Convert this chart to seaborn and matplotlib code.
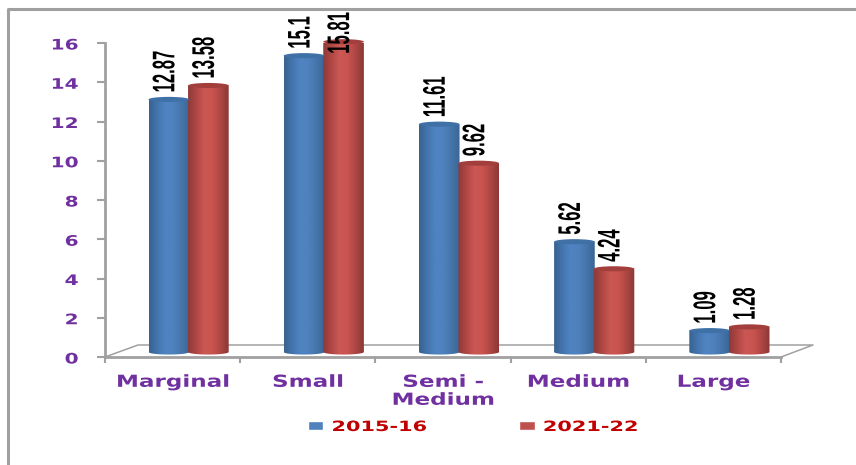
import numpy as np
import pandas as pd
import matplotlib
matplotlib.use('Agg')
import matplotlib.pyplot as plt
import matplotlib.transforms as mtrans
from matplotlib.colors import LinearSegmentedColormap
from matplotlib.lines import Line2D
from matplotlib.patches import Ellipse
from matplotlib.patheffects import AbstractPathEffect
from matplotlib.path import Path
import seaborn as sns

# valores
categorias = ['Marginal', 'Small', 'Semi -\nMedium', 'Medium', 'Large']
valores_2015 = [12.87, 15.1, 11.61, 5.62, 1.09]
valores_2021 = [13.58, 15.81, 9.62, 4.24, 1.28]
periodos = ['2015-16', '2021-22']
ticks_y = [0, 2, 4, 6, 8, 10, 12, 14, 16]

MORADO = '#7030A0'
ROJO = '#C00000'
GRIS = '#A0A0A0'
W, H = 856, 465


class Estirar(AbstractPathEffect):
    """Estira el texto (la imagen original esta deformada), sin dejar de ser texto."""

    def __init__(self, sx=1.0, sy=1.0, dx=0, dy=0):
        super().__init__()
        self.sx, self.sy, self.dx, self.dy = sx, sy, dx, dy

    def draw_path(self, renderer, gc, tpath, affine, rgbFace=None):
        nueva = mtrans.Affine2D().scale(self.sx, self.sy) + affine
        nueva = nueva + mtrans.Affine2D().translate(self.dx, self.dy)
        renderer.draw_path(gc, tpath, nueva, rgbFace)


df = pd.DataFrame({
    'categoria': categorias * 2,
    'valor': valores_2015 + valores_2021,
    'periodo': [periodos[0]] * 5 + [periodos[1]] * 5,
})

sns.set_theme(style='white')
plt.rcParams['font.family'] = ['DejaVu Sans']

fig = plt.figure(figsize=(W / 100, H / 100), dpi=100)
ax = fig.add_axes([105 / W, 1 - 357 / H, (781 - 105) / W, (357 - 43) / H])
ax.patch.set_visible(False)

sns.barplot(data=df, x='categoria', y='valor', hue='periodo', hue_order=periodos,
            palette=['#4F81BD', '#C0504D'], width=0.585, gap=0, saturation=1,
            order=categorias, ax=ax)
ax.set_xlabel('')
ax.set_ylabel('')


def linea_px(xs, ys, lw=1.6):
    """Linea de decoracion en coordenadas de pixel de la imagen."""
    fig.add_artist(Line2D([x / W for x in xs], [1 - y / H for y in ys],
                          color=GRIS, lw=lw, zorder=-1, solid_capstyle='butt'))


# marco exterior y suelo 3D
linea_px([8, 8, 856], [465, 9, 9], lw=2.2)
linea_px([105, 138, 813, 781], [357, 345, 345, 357], lw=1.1)

# desplazamiento de las columnas por la profundidad del grafico
desplazado = mtrans.offset_copy(ax.transData, fig=fig, x=16, y=5, units='dots')

mapa_azul = LinearSegmentedColormap.from_list(
    'azul', ['#38628F', '#4475AE', '#4F84C2', '#4F81BD', '#4675AB', '#3A6596'])
mapa_rojo = LinearSegmentedColormap.from_list(
    'rojo', ['#8E3A38', '#B04744', '#CB5855', '#C9534F', '#AE4744', '#8C3836'])
tapas = ['#3F70A6', '#A23F3C']
gradiente = np.linspace(0, 1, 64).reshape(1, -1)
ALTO_TAPA = 0.13  # semieje de la elipse, en unidades del eje y

for contenedor, mapa, tapa in zip(ax.containers, [mapa_azul, mapa_rojo], tapas):
    for barra in contenedor:
        x0, ancho, valor = barra.get_x(), barra.get_width(), barra.get_height()
        xc = x0 + ancho / 2
        x0, ancho = x0 - 0.004, ancho + 0.008  # sin hueco entre columnas
        barra.set_visible(False)

        # silueta del cilindro: lado recto y arco inferior
        t = np.linspace(np.pi, 2 * np.pi, 30)
        arco_x = xc + ancho / 2 * np.cos(t)
        arco_y = ALTO_TAPA * np.sin(t)
        vertices = np.column_stack([
            np.r_[arco_x, x0 + ancho, x0, x0],
            np.r_[arco_y, valor, valor, arco_y[0]],
        ])
        silueta = Path(vertices)

        im = ax.imshow(gradiente, cmap=mapa, aspect='auto', zorder=3,
                       extent=[x0, x0 + ancho, -0.5, valor])
        im.set_transform(desplazado)
        im.set_clip_path(silueta, transform=desplazado)

        cap = Ellipse((xc, valor), ancho, ALTO_TAPA * 2, facecolor=tapa,
                      edgecolor='none', transform=desplazado, zorder=4, clip_on=False)
        ax.add_artist(cap)

        # 15.81 no cabe arriba y queda encima de la columna
        subir = -12 if valor > 15.5 else 7
        etiqueta = ax.annotate(f'{valor:g}', xy=(xc, valor), xycoords=desplazado,
                               xytext=(0, subir), textcoords='offset pixels', rotation=90,
                               ha='center', va='bottom', fontsize=15, color='black', zorder=6,
                               family=['Liberation Sans'], weight='bold', annotation_clip=False)
        etiqueta.set_path_effects([Estirar(sx=0.8, sy=1.5, dx=0)])

ax.set_xlim(-0.5, 4.5)
ax.set_ylim(0, 16)

# ejes
sns.despine(ax=ax)
for lado in ['left', 'bottom']:
    ax.spines[lado].set_color(GRIS)
    ax.spines[lado].set_linewidth(2.0)
ax.set_yticks(ticks_y)
ax.tick_params(axis='y', length=6, width=1.5, color=GRIS, left=True, pad=13,
               labelsize=14.5, labelcolor=MORADO)
ax.set_xticks(range(5))
ax.set_xticklabels(categorias, linespacing=0.72)
ax.set_xticks(np.arange(-0.5, 5), minor=True)
ax.tick_params(axis='x', which='major', length=0, pad=8.5, labelsize=16.6, labelcolor=MORADO)
ax.tick_params(axis='x', which='minor', length=4, width=1.5, color=GRIS, bottom=True)
for texto in ax.get_yticklabels():
    texto.set_fontweight('bold')
    texto.set_path_effects([Estirar(sy=0.72, dy=1)])
for texto in ax.get_xticklabels():
    texto.set_fontweight('bold')
    texto.set_path_effects([Estirar(sy=0.72)])

# leyenda
manejadores, etiquetas = ax.get_legend_handles_labels()
leyenda = ax.legend(manejadores, etiquetas, ncol=2, frameon=False, loc='center',
                    bbox_to_anchor=(473 / W, 1 - 427 / H), bbox_transform=fig.transFigure,
                    prop={'size': 15, 'weight': 'bold'}, handlelength=0.75, handleheight=0.34,
                    handletextpad=0.4, columnspacing=4.4, borderpad=0)
for texto in leyenda.get_texts():
    texto.set_color(ROJO)
    texto.set_path_effects([Estirar(sy=0.68, dy=2)])

fig.savefig('out.png', dpi=100)
